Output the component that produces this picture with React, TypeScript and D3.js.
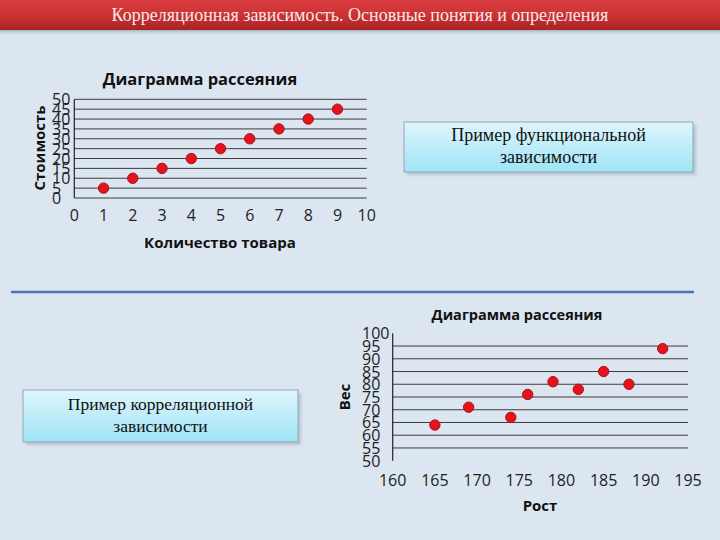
import React from "react";
import * as d3 from "d3";

const pageTitle = "Корреляционная зависимость. Основные понятия и определения";
const chartTitle = "Диаграмма рассеяния";

const quantity = [1, 2, 3, 4, 5, 6, 7, 8, 9];
const cost = [5, 10, 15, 20, 25, 30, 35, 40, 45];
const topXTicks = [0, 1, 2, 3, 4, 5, 6, 7, 8, 9, 10];
const topYTicks = [0, 5, 10, 15, 20, 25, 30, 35, 40, 45, 50];
const topXLabel = "Количество товара";
const topYLabel = "Стоимость";

const height = [165, 169, 174, 176, 179, 182, 185, 188, 192];
const weight = [64, 71, 67, 76, 81, 78, 85, 80, 94];
const botXTicks = [160, 165, 170, 175, 180, 185, 190, 195];
const botYTicks = [50, 55, 60, 65, 70, 75, 80, 85, 90, 95, 100];
const botGrid = [55, 60, 65, 70, 75, 80, 85, 90, 95];
const botXLabel = "Рост";
const botYLabel = "Вес";

const box1 = ["Пример функциональной", "зависимости"];
const box2 = ["Пример корреляционной", "зависимости"];

const CF = "'Open Sans', 'Noto Sans', sans-serif";
const SF = "'Liberation Serif', 'DejaVu Serif', serif";

export default function App() {
  const tx = d3.scaleLinear().domain([0, 10]).range([74.3, 366.7]);
  const ty = d3.scaleLinear().domain([0, 50]).range([198, 99.3]);
  const bx = d3.scaleLinear().domain([160, 195]).range([392.7, 688]);
  const by = d3.scaleLinear().domain([50, 100]).range([460.7, 333.3]);

  const Dot = ({ x, y }: { x: number; y: number }) => (
    <circle cx={x} cy={y} r={5.2} fill="#e3141e" stroke="#b01018" strokeWidth={1} />
  );

  const Box = ({ x, y, w, h, lines, base, fs }: any) => (
    <g>
      <rect x={x + 3} y={y + 3} width={w} height={h} fill="#8a9aa8" opacity={0.45} filter="url(#blur)" />
      <rect x={x} y={y} width={w} height={h} fill="url(#boxgrad)" stroke="#8aaab8" strokeWidth={1} />
      {lines.map((l: string, i: number) => (
        <text key={i} x={x + w / 2} y={base + i * 22} textAnchor="middle" fontFamily={SF} fontSize={fs} fill="#111">
          {l}
        </text>
      ))}
    </g>
  );

  return (
    <svg width={720} height={540} style={{ position: "absolute", left: 0, top: 0 }}>
      <defs>
        <linearGradient id="titlegrad" x1="0" y1="0" x2="0" y2="1">
          <stop offset="0" stopColor="#da3e41" />
          <stop offset="0.6" stopColor="#c8302f" />
          <stop offset="1" stopColor="#a52226" />
        </linearGradient>
        <linearGradient id="shadowgrad" x1="0" y1="0" x2="0" y2="1">
          <stop offset="0" stopColor="#8f9aa6" stopOpacity={0.7} />
          <stop offset="1" stopColor="#dbe5f1" stopOpacity={0} />
        </linearGradient>
        <linearGradient id="boxgrad" x1="0" y1="0" x2="0" y2="1">
          <stop offset="0" stopColor="#dff5fc" />
          <stop offset="1" stopColor="#9fe4f6" />
        </linearGradient>
        <filter id="blur" x="-10%" y="-10%" width="120%" height="140%">
          <feGaussianBlur stdDeviation={1.5} />
        </filter>
      </defs>
      <rect x={0} y={0} width={720} height={540} fill="#dce6f1" />
      <rect x={0} y={30} width={720} height={6} fill="url(#shadowgrad)" />
      <rect x={0} y={0} width={720} height={30} fill="url(#titlegrad)" />
      <text x={360} y={21} textAnchor="middle" fontFamily={SF} fontSize={18} fill="#f6eaea">
        {pageTitle}
      </text>

      {/* Top chart */}
      <text x={200} y={85} textAnchor="middle" fontFamily={CF} fontWeight="bold" fontSize={16.5} fill="#111">
        {chartTitle}
      </text>
      {topYTicks.map((t) => (
        <line key={"g" + t} x1={tx(0)} x2={tx(10)} y1={ty(t)} y2={ty(t)} stroke="#3c3c3c" strokeWidth={1} />
      ))}
      <line x1={tx(0)} x2={tx(0)} y1={ty(0)} y2={ty(50)} stroke="#222" strokeWidth={1.2} />
      {topYTicks.map((t) => (
        <text key={"y" + t} x={52} y={ty(t) + 6} fontFamily={CF} fontSize={16} fill="#222">
          {t}
        </text>
      ))}
      {topXTicks.map((t) => (
        <text key={"x" + t} x={tx(t)} y={221} textAnchor="middle" fontFamily={CF} fontSize={16} fill="#222">
          {t}
        </text>
      ))}
      <text
        transform={`translate(${45},${148}) rotate(-90)`}
        textAnchor="middle"
        fontFamily={CF}
        fontWeight="bold"
        fontSize={15}
        fill="#111"
      >
        {topYLabel}
      </text>
      <text x={220} y={248} textAnchor="middle" fontFamily={CF} fontWeight="bold" fontSize={15} fill="#111">
        {topXLabel}
      </text>
      {quantity.map((q, i) => (
        <Dot key={"p" + i} x={tx(q)} y={ty(cost[i])} />
      ))}

      {/* Separator */}
      <line x1={11} x2={694} y1={292} y2={292} stroke="#4a78b0" strokeWidth={2.5} />

      {/* Bottom chart */}
      <text x={517} y={320} textAnchor="middle" fontFamily={CF} fontWeight="bold" fontSize={14.5} fill="#111">
        {chartTitle}
      </text>
      {botGrid.map((t) => (
        <line key={"bg" + t} x1={bx(160)} x2={bx(195)} y1={by(t)} y2={by(t)} stroke="#3c3c3c" strokeWidth={1} />
      ))}
      <line x1={bx(160)} x2={bx(160)} y1={by(50)} y2={by(100)} stroke="#222" strokeWidth={1.2} />
      {botYTicks.map((t) => (
        <text key={"by" + t} x={362} y={by(t) + 6} fontFamily={CF} fontSize={16} fill="#222">
          {t}
        </text>
      ))}
      {botXTicks.map((t) => (
        <text key={"bx" + t} x={bx(t)} y={486} textAnchor="middle" fontFamily={CF} fontSize={16} fill="#222">
          {t}
        </text>
      ))}
      <text
        transform={`translate(${350},${397}) rotate(-90)`}
        textAnchor="middle"
        fontFamily={CF}
        fontWeight="bold"
        fontSize={15}
        fill="#111"
      >
        {botYLabel}
      </text>
      <text x={540} y={511} textAnchor="middle" fontFamily={CF} fontWeight="bold" fontSize={15} fill="#111">
        {botXLabel}
      </text>
      {height.map((h, i) => (
        <Dot key={"bp" + i} x={bx(h)} y={by(weight[i])} />
      ))}

      <Box x={404} y={122} w={289} h={50} lines={box1} base={141} fs={18} />
      <Box x={23} y={390} w={275} h={52} lines={box2} base={410} fs={17.5} />
    </svg>
  );
}
